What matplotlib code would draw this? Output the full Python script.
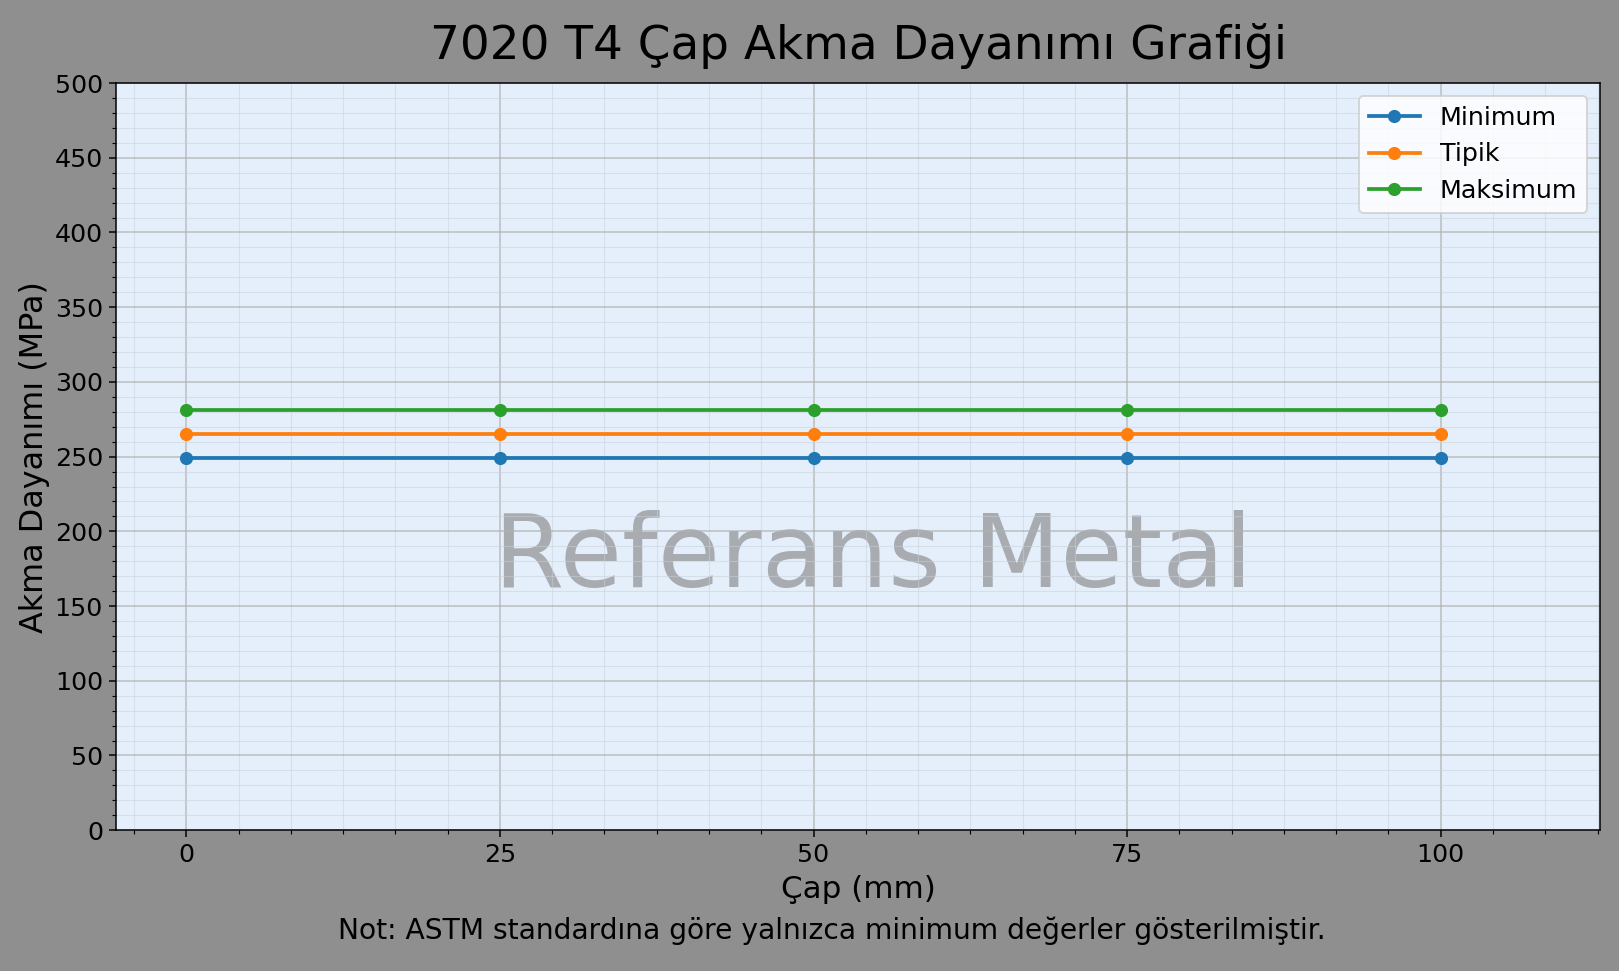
import matplotlib
matplotlib.use('Agg')
import matplotlib.pyplot as plt
from matplotlib.ticker import AutoMinorLocator, MultipleLocator

# data
cap = [0, 25, 50, 75, 100]
minimum = [249, 249, 249, 249, 249]
tipik = [265, 265, 265, 265, 265]
maksimum = [281, 281, 281, 281, 281]

fig = plt.figure(figsize=(1619/135, 971/135), dpi=135, facecolor='#8f8f8f')
ax = fig.add_axes([0.0717, 0.145, 0.9166, 0.7695])
ax.set_facecolor('#e4effb')

ax.plot(cap, minimum, marker='o', lw=2, label='Minimum', zorder=3)
ax.plot(cap, tipik, marker='o', lw=2, label='Tipik', zorder=3)
ax.plot(cap, maksimum, marker='o', lw=2, label='Maksimum', zorder=3)

ax.set_xlim(-5.6, 112.7)
ax.set_ylim(0, 500)
ax.set_xticks(cap)
ax.yaxis.set_major_locator(MultipleLocator(50))
ax.xaxis.set_minor_locator(AutoMinorLocator(6))
ax.yaxis.set_minor_locator(AutoMinorLocator(5))
ax.tick_params(labelsize=13.5)
ax.grid(True, which='major', color='#b0b0b0', lw=0.8, alpha=0.8)
ax.grid(True, which='minor', color='#c8d0d8', lw=0.6, alpha=0.5)

ax.set_title('7020 T4 Çap Akma Dayanımı Grafiği', fontsize=25, pad=13)
ax.set_xlabel('Çap (mm)', fontsize=16.5)
ax.set_ylabel('Akma Dayanımı (MPa)', fontsize=17, labelpad=2.5)
ax.legend(loc='upper right', fontsize=13.5)

ax.text(0.51, 0.363, 'Referans Metal', transform=ax.transAxes, fontsize=54,
        color='gray', alpha=0.6, ha='center', va='center', zorder=1)

fig.text(0.514, 0.041, 'Not: ASTM standardına göre yalnızca minimum değerler gösterilmiştir.',
         fontsize=15, ha='center', va='center')

fig.savefig('out.png', dpi=135, facecolor=fig.get_facecolor())
